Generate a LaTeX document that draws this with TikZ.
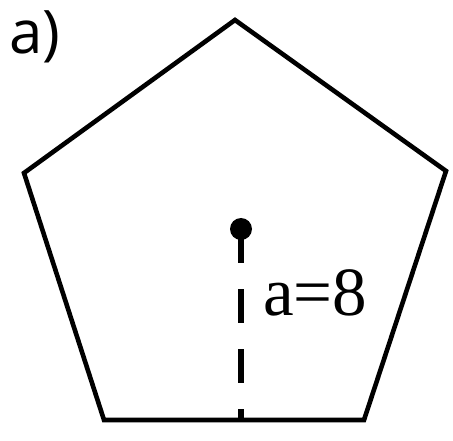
\documentclass[tikz,border=0pt]{standalone}
\usepackage{fontspec}
\usepackage{tikz}
\usetikzlibrary{positioning, calc}
\newfontfamily\labelsans{Open Sans}
\newfontfamily\labelserif{Liberation Serif}
\definecolor{inkblack}{HTML}{000000}

\begin{document}
\begin{tikzpicture}[x=1pt, y=-1pt]
    \useasboundingbox (0,0) rectangle (453,441);
    % pentagon corners
    \coordinate (top) at (235,20);
    \coordinate (right) at (446,171);
    \coordinate (botright) at (364,420);
    \coordinate (botleft) at (104,420);
    \coordinate (left) at (24,173);
    \draw[inkblack, line width=4.6pt, line join=miter]
        (top) -- (right) -- (botright) -- (botleft) -- (left) -- cycle;
    % centre and apothem
    \node[circle, fill=inkblack, inner sep=0pt, minimum size=22pt] (centre) at (241,229) {};
    \coordinate (foot) at (241,420);
    \draw[inkblack, line width=5.5pt, dash pattern=on 34pt off 26pt] (centre.center) -- (foot);
    \node[font=\fontsize{69}{72}\selectfont\labelserif, anchor=base west, inner sep=0pt] (apothem) at (263,316) {a=8};
    \node[font=\fontsize{60}{64}\selectfont\labelsans, anchor=base west, inner sep=0pt] (tag) at (9,54) {a)};
\end{tikzpicture}
\end{document}
